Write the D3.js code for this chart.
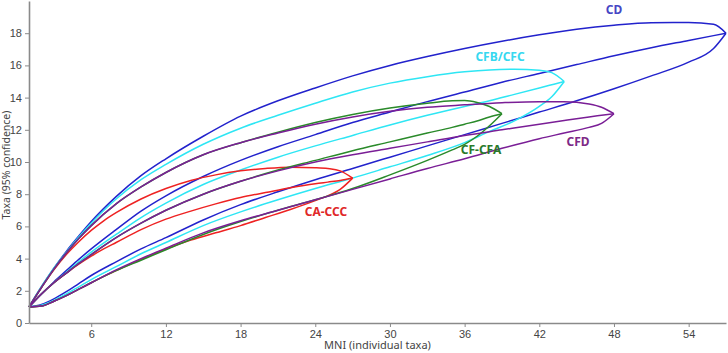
<!DOCTYPE html>
<html>
<head>
<meta charset="utf-8">
<script src="https://cdn.jsdelivr.net/npm/d3@7"></script>
<style>
  body { margin: 0; background: #fff; }
  svg { display: block; font-family: "Noto Sans", "Open Sans", sans-serif; }
  .axis path, .axis line { stroke: #8a8a8a; }
  .axis path { stroke-width: 1.6; }
  .axis text { fill: #444; font-size: 11px; }
</style>
</head>
<body>
<div id="chart"></div>
<script>
// Rarefaction curves: upper 95% bound, mean, lower 95% bound per sample group

const xTicks = [6, 12, 18, 24, 30, 36, 42, 48, 54];
const yTicks = [0, 2, 4, 6, 8, 10, 12, 14, 16, 18];

const cdX     = [1, 2, 3, 4, 5, 6, 8, 10, 12, 15, 18, 21, 24, 27, 30, 33, 36, 39, 42, 45, 48, 51, 54, 56, 57];
const cdUpper = [1, 2.25, 3.4, 4.45, 5.4, 6.3, 7.85, 9.15, 10.2, 11.6, 12.85, 13.8, 14.6, 15.35, 16.0, 16.55, 17.05, 17.5, 17.9, 18.25, 18.5, 18.65, 18.66, 18.55, 18];
const cdMean  = [1, 1.8, 2.55, 3.25, 3.95, 4.6, 5.8, 6.95, 7.9, 9.1, 10.1, 10.95, 11.7, 12.45, 13.1, 13.75, 14.35, 14.95, 15.5, 16.05, 16.6, 17.1, 17.55, 17.85, 18];
const cdLower = [1, 1.15, 1.5, 1.95, 2.45, 2.95, 3.8, 4.6, 5.3, 6.4, 7.35, 8.15, 8.9, 9.6, 10.3, 11.0, 11.7, 12.4, 13.1, 13.8, 14.55, 15.35, 16.2, 17.05, 18];

const cfbX     = [1, 2, 3, 4, 5, 6, 8, 10, 12, 15, 18, 21, 24, 27, 30, 33, 36, 38, 40, 42, 43, 44];
const cfbUpper = [1, 2.25, 3.4, 4.4, 5.35, 6.2, 7.7, 8.9, 9.85, 11.1, 12.1, 12.9, 13.65, 14.35, 14.9, 15.3, 15.6, 15.72, 15.76, 15.7, 15.55, 15];
const cfbMean  = [1, 1.8, 2.5, 3.15, 3.8, 4.4, 5.5, 6.55, 7.45, 8.6, 9.5, 10.3, 11.0, 11.65, 12.3, 12.9, 13.45, 13.8, 14.2, 14.6, 14.8, 15];
const cfbLower = [1, 1.1, 1.4, 1.8, 2.25, 2.7, 3.5, 4.3, 5.0, 6.05, 6.9, 7.65, 8.35, 9.0, 9.7, 10.4, 11.2, 11.9, 12.55, 13.45, 14.05, 15];

const cfaX     = [1, 2, 3, 4, 5, 6, 8, 10, 12, 15, 18, 21, 24, 27, 30, 33, 35, 36, 37, 38, 39];
const cfaUpper = [1, 2.2, 3.35, 4.35, 5.25, 6.05, 7.4, 8.45, 9.35, 10.45, 11.2, 11.85, 12.45, 12.95, 13.35, 13.65, 13.8, 13.82, 13.7, 13.45, 13];
const cfaMean  = [1, 1.8, 2.5, 3.1, 3.7, 4.25, 5.3, 6.2, 7.0, 8.0, 8.8, 9.5, 10.1, 10.7, 11.25, 11.8, 12.15, 12.35, 12.55, 12.8, 13];
const cfaLower = [1, 1.05, 1.35, 1.7, 2.1, 2.5, 3.25, 3.9, 4.55, 5.5, 6.3, 7.0, 7.65, 8.35, 9.2, 10.1, 10.75, 11.1, 11.6, 12.25, 13];

const cfdX     = [1, 2, 3, 4, 5, 6, 8, 10, 12, 15, 18, 21, 24, 27, 30, 33, 36, 39, 42, 44, 46, 47, 48];
const cfdUpper = [1, 2.2, 3.35, 4.35, 5.25, 6.05, 7.4, 8.45, 9.35, 10.45, 11.2, 11.8, 12.35, 12.8, 13.15, 13.4, 13.55, 13.68, 13.75, 13.75, 13.6, 13.4, 13];
const cfdMean  = [1, 1.8, 2.5, 3.1, 3.7, 4.25, 5.3, 6.2, 7.0, 8.0, 8.8, 9.45, 10.0, 10.45, 10.85, 11.25, 11.65, 12.0, 12.35, 12.58, 12.8, 12.9, 13];
const cfdLower = [1, 1.05, 1.35, 1.7, 2.1, 2.5, 3.3, 4.0, 4.65, 5.6, 6.35, 7.0, 7.65, 8.3, 8.95, 9.6, 10.2, 10.85, 11.45, 11.8, 12.15, 12.4, 13];

const cccX     = [1, 2, 3, 4, 5, 6, 7, 8, 10, 12, 14, 16, 18, 20, 22, 24, 25, 26, 27];
const cccUpper = [1, 2.2, 3.3, 4.25, 5.05, 5.75, 6.35, 6.85, 7.7, 8.35, 8.85, 9.2, 9.45, 9.6, 9.68, 9.65, 9.6, 9.45, 9];
const cccMean  = [1, 1.8, 2.5, 3.1, 3.65, 4.15, 4.6, 5.0, 5.8, 6.45, 6.95, 7.4, 7.8, 8.1, 8.4, 8.65, 8.75, 8.85, 9];
const cccLower = [1, 1.05, 1.35, 1.7, 2.1, 2.5, 2.9, 3.25, 3.95, 4.6, 5.15, 5.6, 6.05, 6.55, 7.05, 7.6, 7.9, 8.3, 9];

const series = [
  { name: "CD",      color: "#2222cc", label: "#4646c4", x: cdX,  upper: cdUpper,  mean: cdMean,  lower: cdLower,  lx: 614, ly: 14 },
  { name: "CFB/CFC", color: "#2ee6f4", label: "#36d8f0", x: cfbX, upper: cfbUpper, mean: cfbMean, lower: cfbLower, lx: 500, ly: 61 },
  { name: "CA-CCC",  color: "#ee2222", label: "#e02828", x: cccX, upper: cccUpper, mean: cccMean, lower: cccLower, lx: 326, ly: 216 },
  { name: "CF-CFA",  color: "#2a8a2a", label: "#2a7a2a", x: cfaX, upper: cfaUpper, mean: cfaMean, lower: cfaLower, lx: 481, ly: 154 },
  { name: "CFD",     color: "#7a1e96", label: "#7e2a86", x: cfdX, upper: cfdUpper, mean: cfdMean, lower: cfdLower, lx: 578, ly: 146 }
];

const width = 728;
const height = 353;
const margin = { top: 1, right: 2, bottom: 30, left: 29 };
const innerWidth = width - margin.left - margin.right;
const innerHeight = height - margin.top - margin.bottom;

const svg = d3.select("#chart")
  .append("svg")
    .attr("width", width)
    .attr("height", height);

const innerChart = svg
  .append("g")
    .attr("transform", `translate(${margin.left}, ${margin.top})`);

const xScale = d3.scaleLinear()
  .domain([1, 57])
  .range([0, innerWidth]);

const yScale = d3.scaleLinear()
  .domain([0, 20])
  .range([innerHeight, 0]);

// Curves
const lineGenerator = d3.line()
  .x(d => xScale(d[0]))
  .y(d => yScale(d[1]))
  .curve(d3.curveMonotoneX);

series.forEach(s => {
  const g = innerChart.append("g").attr("class", "series");
  ["upper", "mean", "lower"].forEach(key => {
    g.append("path")
      .attr("d", lineGenerator(s.x.map((x, i) => [x, s[key][i]])))
      .attr("fill", "none")
      .attr("stroke", s.color)
      .attr("stroke-width", 1.5);
  });
});

// Axes
const bottomAxis = d3.axisBottom(xScale)
  .tickValues(xTicks)
  .tickSize(4)
  .tickSizeOuter(0)
  .tickPadding(3);
innerChart
  .append("g")
    .attr("class", "axis")
    .attr("transform", `translate(0, ${innerHeight})`)
    .call(bottomAxis);

const leftAxis = d3.axisLeft(yScale)
  .tickValues(yTicks)
  .tickSize(4)
  .tickSizeOuter(0)
  .tickPadding(3);
innerChart
  .append("g")
    .attr("class", "axis")
    .call(leftAxis);

// Series labels
svg.selectAll(".series-label")
  .data(series)
  .join("text")
    .attr("class", "series-label")
    .attr("x", d => d.lx)
    .attr("y", d => d.ly)
    .attr("text-anchor", "middle")
    .attr("fill", d => d.label)
    .style("font-size", "12px")
    .style("font-weight", "bold")
    .text(d => d.name);

// Axis titles
svg.append("text")
  .attr("x", margin.left + innerWidth / 2)
  .attr("y", 349)
  .attr("text-anchor", "middle")
  .attr("fill", "#444")
  .style("font-size", "11px")
  .text("MNI (individual taxa)");

svg.append("text")
  .attr("transform", `translate(10, 165) rotate(-90)`)
  .attr("text-anchor", "middle")
  .attr("fill", "#444")
  .style("font-size", "10.5px")
  .text("Taxa (95% confidence)");
</script>
</body>
</html>
